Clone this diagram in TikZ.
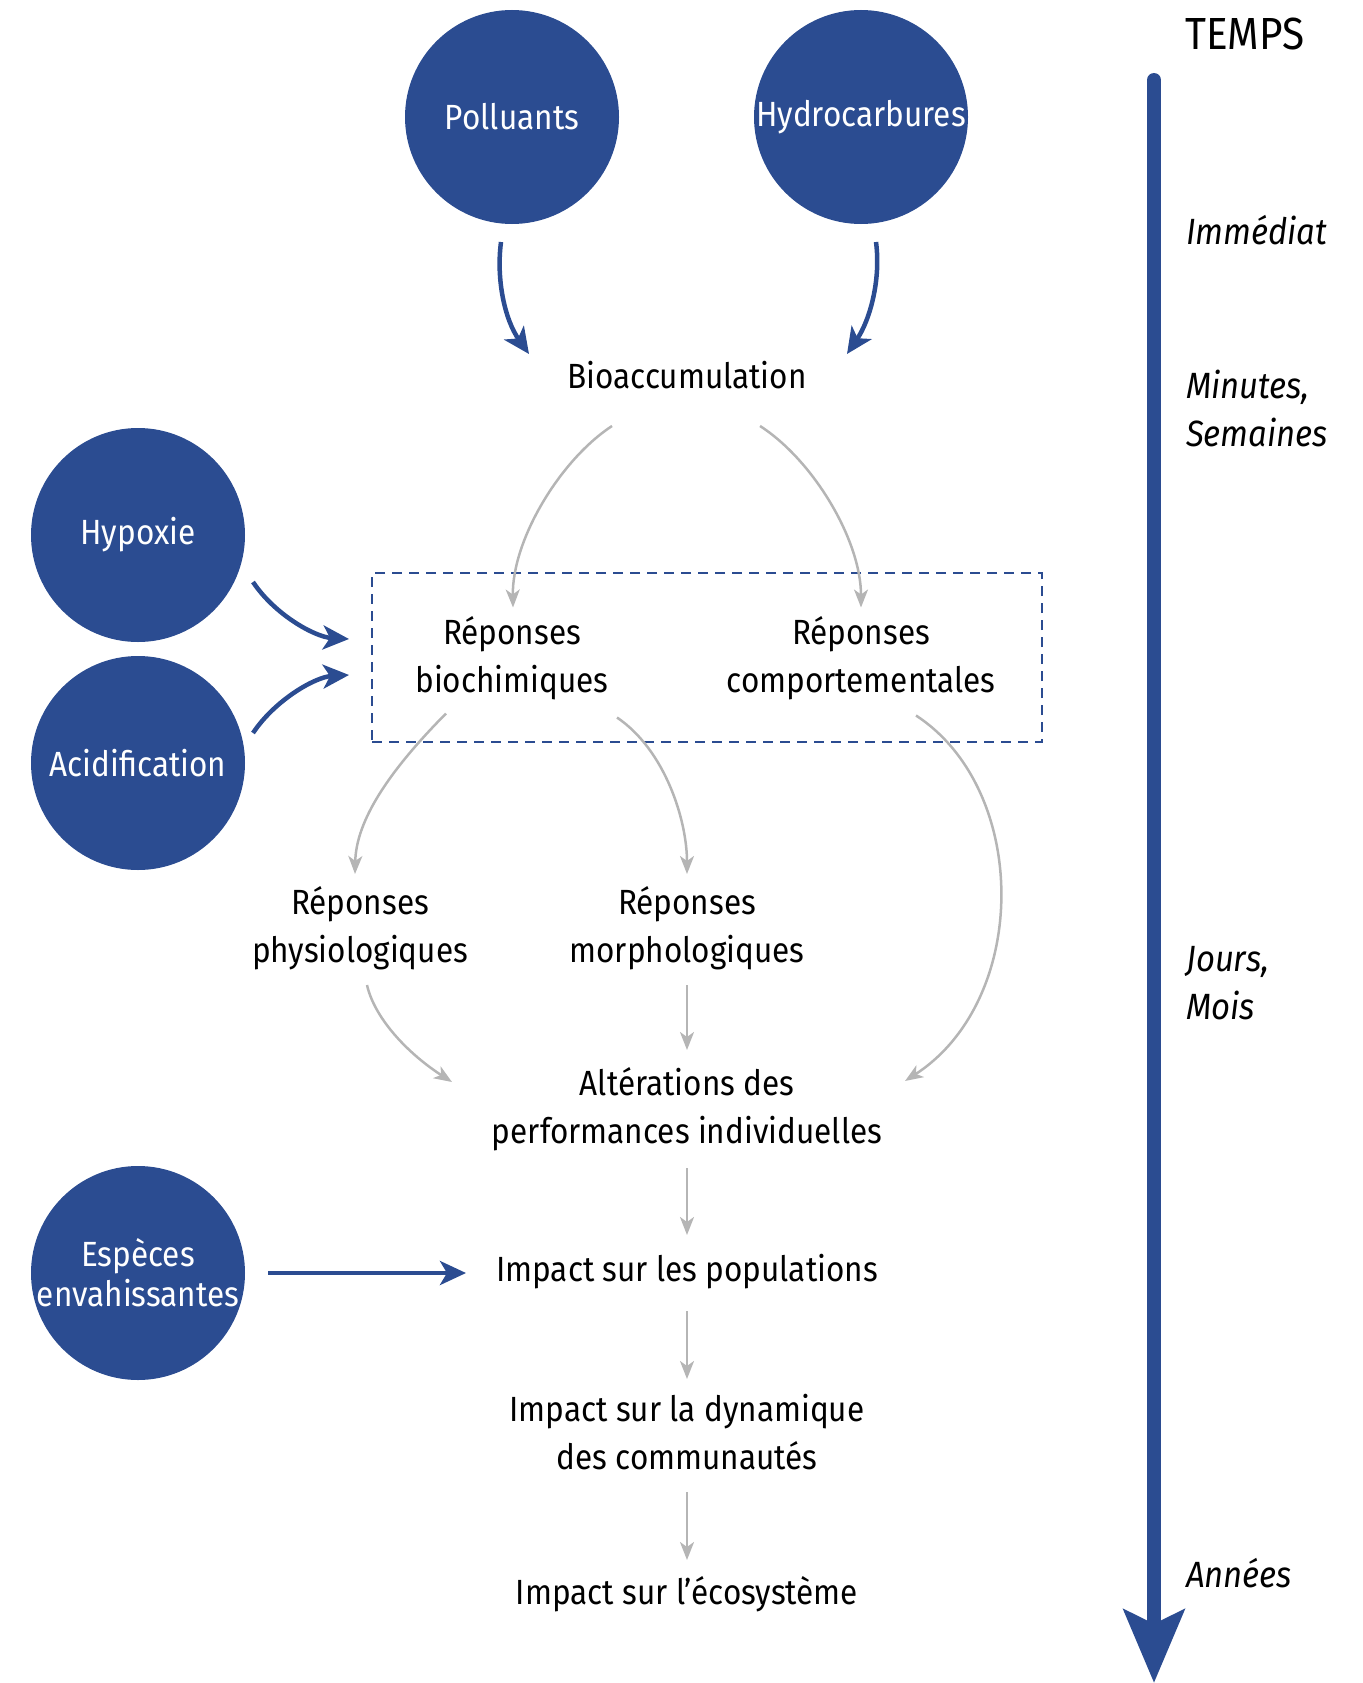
\documentclass[tikz,border=0pt]{standalone}
\usepackage{fontspec}
\setmainfont{Fira Sans}[FakeStretch=0.9]
\usetikzlibrary{arrows.meta}
\definecolor{navy}{HTML}{2B4C91}
\definecolor{lgrey}{HTML}{B5B5B5}
\begin{document}
\begin{tikzpicture}[x=1pt,y=-1pt,
  bubble/.style={circle, fill=navy, minimum size=214pt, inner sep=0pt, text=white, align=center, font=\fontsize{35}{40}\selectfont},
  lbl/.style={align=center, font=\fontsize{35}{48}\selectfont, inner sep=0pt},
  tl/.style={anchor=west, align=left, font=\fontsize{36.5}{48}\selectfont\itshape, inner sep=0pt},
  bluearr/.style={draw=navy, line width=4.5pt, -{Stealth[length=26pt,width=24pt,inset=7pt]}},
  greyarr/.style={draw=lgrey, line width=2.5pt, -{Stealth[length=18pt,width=14pt,inset=5pt]}},
  frame/.style={draw=navy, line width=2pt, dash pattern=on 10pt off 7pt, minimum width=670pt, minimum height=169pt, inner sep=0pt}]
\useasboundingbox (0,0) rectangle (1362,1683);
% circles
\node[bubble] (poll) at (512,117) {Polluants};
\node[bubble] (hydro) at (861,117) {Hydrocarbures};
\node[bubble] (hypo) at (138,535) {Hypoxie};
\node[bubble] (acid) at (138,763) {Acidification};
\node[bubble] (esp) at (138,1273) {Espèces\\envahissantes};
% frame
\node[frame] (box) at (707,657.5) {};
% labels
\node[lbl] (bio) at (687,375) {Bioaccumulation};
\node[lbl] (bioch) at (512,658.5) {Réponses\\biochimiques};
\node[lbl] (comp) at (861,658.5) {Réponses\\comportementales};
\node[lbl] (phys) at (360,928) {Réponses\\physiologiques};
\node[lbl] (morph) at (687,928) {Réponses\\morphologiques};
\node[lbl] (alt) at (687,1109) {Altérations des\\performances individuelles};
\node[lbl] (pop) at (687,1272) {Impact sur les populations};
\node[lbl] (dyn) at (687,1432) {Impact sur la dynamique\\des communautés};
\node[lbl] (eco) at (687,1594) {Impact sur l’écosystème};
% timeline
\node[anchor=west, inner sep=0pt, font=\fontsize{45}{48}\selectfont] (temps) at (1185,34) {TEMPS};
\node[tl] (t1) at (1186,230) {Immédiat};
\node[tl] (t2) at (1186,408) {Minutes,\\Semaines};
\node[tl] (t3) at (1186,983) {Jours,\\Mois};
\node[tl] (t4) at (1186,1573) {Années};
\coordinate (tstart) at (1154,80);
\coordinate (tend) at (1154,1683);
\draw[navy, line width=14pt, line cap=round, -{Stealth[length=73pt,width=60pt,inset=14pt]}] (tstart) -- (tend);
% blue arrows
\draw[bluearr] ([shift={(-11,125)}]poll.center) .. controls (496,280) and (505,320) .. ([shift={(-158,-21)}]bio.center);
\draw[bluearr] ([shift={(15,125)}]hydro.center) .. controls (881,280) and (870,320) .. ([shift={(160,-21)}]bio.center);
\draw[bluearr] ([shift={(115,47)}]hypo.center) .. controls (275,615) and (315,637) .. ([shift={(-22,-18.5)}]box.west);
\draw[bluearr] ([shift={(115,-30)}]acid.center) .. controls (275,700) and (315,677) .. ([shift={(-22,17.5)}]box.west);
\draw[bluearr] ([shift={(130,0)}]esp.center) -- ([shift={(-221,1)}]pop.center);
% grey arrows
\draw[greyarr] ([shift={(-75,51)}]bio.center) .. controls (560,460) and (512,540) .. ([shift={(1,-51)}]bioch.center);
\draw[greyarr] ([shift={(73,51)}]bio.center) .. controls (813,460) and (861,540) .. ([shift={(0,-51)}]comp.center);
\draw[greyarr] ([shift={(-66,55)}]bioch.center) .. controls (390,770) and (356,820) .. ([shift={(-5,-54)}]phys.center);
\draw[greyarr] ([shift={(105,59)}]bioch.center) .. controls (665,750) and (687,820) .. ([shift={(0,-54)}]morph.center);
\draw[greyarr] ([shift={(55,57)}]comp.center) .. controls (1030,790) and (1030,1000) .. ([shift={(218,-28)}]alt.center);
\draw[greyarr] ([shift={(7,57)}]phys.center) .. controls (375,1020) and (410,1055) .. ([shift={(-235,-27)}]alt.center);
\draw[greyarr] ([shift={(0,57)}]morph.center) -- ([shift={(0,-59)}]alt.center);
\draw[greyarr] ([shift={(0,59)}]alt.center) -- ([shift={(0,-37)}]pop.center);
\draw[greyarr] ([shift={(0,39)}]pop.center) -- ([shift={(0,-53)}]dyn.center);
\draw[greyarr] ([shift={(0,60)}]dyn.center) -- ([shift={(0,-34)}]eco.center);
\end{tikzpicture}
\end{document}
